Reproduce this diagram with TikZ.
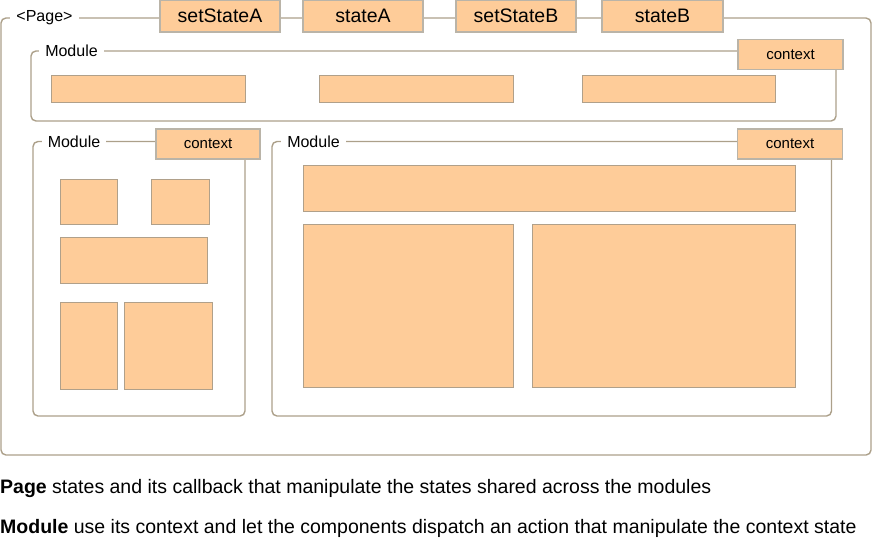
\documentclass[tikz,border=0pt]{standalone}
\usepackage{fontspec}
\setmainfont{Liberation Sans}
\definecolor{boxfill}{RGB}{254,204,153}
\definecolor{boxedge}{RGB}{186,180,168}
\definecolor{compedge}{RGB}{176,160,138}
\definecolor{frameline}{RGB}{172,160,138}
\tikzset{
  frame/.style={draw=frameline, line width=1.4pt, rounded corners=5pt},
  framelabel/.style={fill=white, inner xsep=6pt, inner ysep=1pt, font=\fontsize{16}{18}\selectfont},
  statebox/.style={draw=boxedge, fill=boxfill, line width=1.2pt, minimum height=32pt, font=\fontsize{19.5}{22}\selectfont, inner sep=0pt},
  ctxbox/.style={draw=boxedge, fill=boxfill, line width=1.2pt, minimum width=105pt, minimum height=30pt, font=\fontsize{15}{17}\selectfont, inner sep=0pt},
  comp/.style={draw=compedge, fill=boxfill, line width=0.7pt},
  note/.style={anchor=base west, inner sep=0pt, font=\fontsize{19.5}{22}\selectfont}
}
\begin{document}
\begin{tikzpicture}[x=1pt, y=-1pt]
  \useasboundingbox (0,0) rectangle (873,542);

  % page
  \draw[frame] (1,18) rectangle (871,455);
  \node[framelabel] (page) at (44.5,18) {<Page>};
  \node[statebox, minimum width=120pt] (setA) at (220,16) {setStateA};
  \node[statebox, minimum width=120pt] (stA) at (363,16) {stateA};
  \node[statebox, minimum width=120pt] (setB) at (516,16) {setStateB};
  \node[statebox, minimum width=121pt] (stB) at (662.5,16) {stateB};

  % top module
  \draw[frame] (31,51) rectangle (836,121);
  \node[framelabel] (modA) at (71.5,51) {Module};
  \node[ctxbox] (ctxA) at (790.5,54.5) {context};
  \foreach \x/\w in {51/194, 319/194, 582/193}
    \draw[comp] (\x,75) rectangle ++(\w,27);

  % left module
  \draw[frame] (33,141.5) rectangle (245,416);
  \node[framelabel] (modB) at (74,141.5) {Module};
  \node[ctxbox, minimum width=104pt] (ctxB) at (208,144) {context};
  \draw[comp] (60,179) rectangle (117,224);
  \draw[comp] (151,179) rectangle (209,224);
  \draw[comp] (60,237) rectangle (207,283);
  \draw[comp] (60,302) rectangle (117,389);
  \draw[comp] (124,302) rectangle (212,389);

  % right module
  \draw[frame] (272,141.5) rectangle (831.5,416);
  \node[framelabel] (modC) at (313.5,141.5) {Module};
  \node[ctxbox] (ctxC) at (790,144) {context};
  \draw[comp] (303,165) rectangle (795,211);
  \draw[comp] (303,224) rectangle (513,387);
  \draw[comp] (532,224) rectangle (795,387);

  % notes
  \node[note] (notePage) at (0,493) {\textbf{Page} states and its callback that manipulate the states shared across the modules};
  \node[note] (noteMod) at (0,533) {\textbf{Module} use its context and let the components dispatch an action that manipulate the context state};
\end{tikzpicture}
\end{document}
